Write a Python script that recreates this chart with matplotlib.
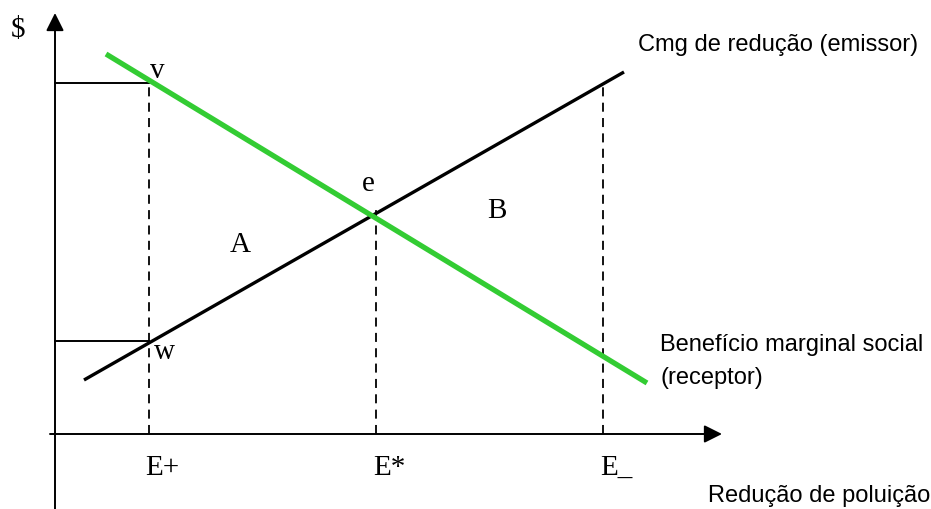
import matplotlib
matplotlib.use("Agg")
import matplotlib.pyplot as plt

# curve endpoints (x = reduction, y = $)
cmg_x = [29, 569]
cmg_y = [54, 362]
bms_x = [51, 592]
bms_y = [380, 51]

# quantities on the x axis and their labels
e_x = [94, 321, 548]
e_top = [351, 227, 350]
e_labels = ["E+", "E*", "E_"]

# price levels at v and w
v_level = 351
w_level = 93

serif = "Liberation Serif"
sans = "Liberation Sans"

fig = plt.figure(figsize=(9.31, 5.09), dpi=100)
ax = fig.add_axes([0, 0, 1, 1])
ax.set_xlim(-55, 876)
ax.set_ylim(-75, 434)
ax.axis("off")

# --- axes with arrow heads ---
arrow = dict(arrowstyle="-|>,head_length=0.6,head_width=0.3", mutation_scale=18,
             color="black", lw=1.4, shrinkA=0, shrinkB=0)
ax.annotate("", xy=(0, 421), xytext=(0, -75), arrowprops=arrow)
ax.annotate("", xy=(667, 0), xytext=(-5, 0), arrowprops=arrow)

# --- dashed guides ---
for x, top in zip(e_x, e_top):
    ax.plot([x, x], [0, top], color="black", lw=1.3, ls=(0, (5, 3.5)))

ax.plot([0, e_x[0]], [v_level, v_level], color="black", lw=1.4)
ax.plot([0, e_x[0]], [w_level, w_level], color="black", lw=1.4)

# --- curves ---
ax.plot(cmg_x, cmg_y, color="black", lw=2.4, solid_capstyle="butt")
ax.plot(bms_x, bms_y, color="#33cc33", lw=3.8, solid_capstyle="butt")

# --- labels ---
fs = 21
ax.text(-37, 404, "$", fontsize=fs, family=serif, ha="center", va="center")
ax.text(102, 363, "v", fontsize=fs, family=serif, ha="center", va="center")
ax.text(109, 82, "w", fontsize=fs, family=serif, ha="center", va="center")
ax.text(313, 250, "e", fontsize=fs, family=serif, ha="center", va="center")
ax.text(185, 189, "A", fontsize=fs, family=serif, ha="center", va="center")
ax.text(442, 223, "B", fontsize=fs, family=serif, ha="center", va="center")
for x, lab in zip(e_x, e_labels):
    ax.text(x + 13, -34, lab, fontsize=fs, family=serif, ha="center", va="center")

ax.text(583, 389, "Cmg de redução (emissor)", fontsize=17, family=sans,
        ha="left", va="center")
ax.text(605, 89, "Benefício marginal social", fontsize=17, family=sans,
        ha="left", va="center")
ax.text(605, 56, "(receptor)", fontsize=17, family=sans, ha="left", va="center")
ax.text(653, -62, "Redução de poluição", fontsize=17, family=sans,
        ha="left", va="center")

fig.savefig("out.png", dpi=100)
